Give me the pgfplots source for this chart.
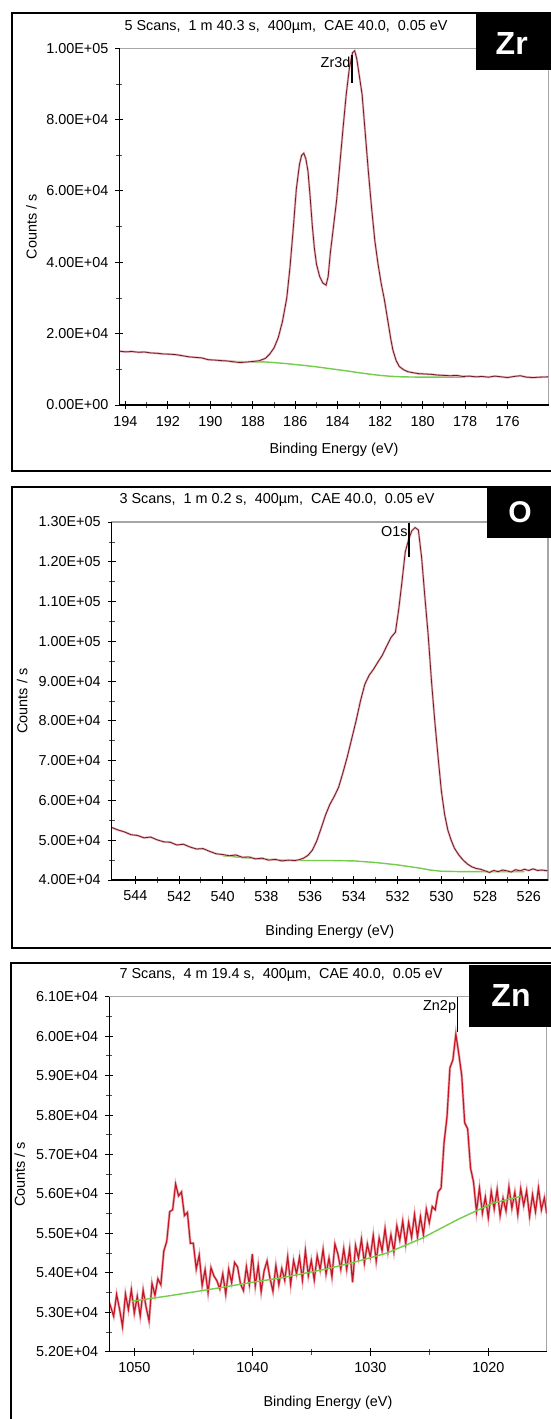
\documentclass[border=0pt]{standalone}
\usepackage{fontspec}
\setmainfont{Liberation Sans}
\usepackage{pgfplots}
\pgfplotsset{compat=1.18}

\definecolor{spec}{RGB}{110,25,35}
\definecolor{halo}{RGB}{232,180,185}
\definecolor{znred}{RGB}{200,20,35}
\definecolor{bkg}{RGB}{115,205,75}

\pgfplotsset{xps/.style={
  scale only axis, x dir=reverse, anchor=south west,
  font=\fontsize{7.2}{8.6}\selectfont,
  scaled y ticks=false, scaled x ticks=false,
  axis line style={gray!70, line width=0.6pt},
  tick pos=left, tick align=center,
  major tick length=4pt, minor tick length=3pt,
  major tick style={black, line width=0.5pt},
  minor tick style={black!70, line width=0.4pt},
  minor tick num=1,
  xlabel={Binding Energy (eV)}, ylabel={Counts / s},
  every axis y label/.style={at={(axis description cs:-0.205,0.5)}, rotate=90, anchor=center},
  after end axis/.code={\draw[black, line width=0.7pt] (rel axis cs:0,1) -- (rel axis cs:0,0) -- (rel axis cs:1,0);},
}}

\begin{document}
\begin{tikzpicture}
\useasboundingbox (0,0) rectangle (275.5pt,-709.5pt);

% ---------------- Zr 3d ----------------
\begin{axis}[xps, at={(59.75pt,-202.5pt)}, width=214.5pt, height=178.35pt,
  xmin=174.07, xmax=194.28, ymin=0, ymax=100000,
  xtick={176,178,180,182,184,186,188,190,192,194},
  xticklabels={176,178,180,182,184,186,188,190,192,194},
  ytick={0,20000,40000,60000,80000,100000},
  yticklabels={0.00E+00,2.00E+04,4.00E+04,6.00E+04,8.00E+04,1.00E+05},
  every axis x label/.style={at={(axis description cs:0.5,-0.126)}, anchor=center}]
\addplot[bkg, line width=0.7pt] coordinates {
(189.6,12500) (189.0,12250) (188.5,12150) (188.0,12100) (187.5,12100) (187.0,11900)
(186.5,11650) (186.0,11350) (185.5,11050) (185.0,10700) (184.5,10300) (184.0,9900)
(183.5,9500) (183.0,9050) (182.5,8650) (182.0,8300) (181.5,8050) (181.0,7900)
(180.5,7850) (180.0,7800) (179.0,7800) (178.0,7800)};
\addplot[spec, line width=0.4pt, preaction={draw, halo, line width=1.1pt}] coordinates {
(194.3,15100) (194.0,14900) (193.7,15000) (193.4,14800) (193.1,14850) (192.8,14600)
(192.5,14500) (192.2,14300) (191.9,14250) (191.6,14100) (191.3,13800) (191.0,13500)
(190.7,13350) (190.4,13200) (190.1,12700) (189.8,12600) (189.5,12450) (189.2,12350)
(188.9,12100) (188.6,11900) (188.3,12050) (188.0,12200) (187.7,12400) (187.4,13100)
(187.2,14300) (187.0,16000) (186.8,18900) (186.6,23500) (186.4,30000) (186.25,38500)
(186.1,49000) (185.95,60500) (185.8,67500) (185.7,70000) (185.6,70600) (185.5,69000)
(185.4,65500) (185.3,58500) (185.2,50500) (185.1,44000) (185.0,39500) (184.85,36000)
(184.7,34200) (184.55,33600) (184.45,36000) (184.35,42500) (184.2,50000) (184.05,57500)
(183.9,67500) (183.75,77500) (183.6,87000) (183.45,94500) (183.3,98800) (183.2,99300)
(183.1,97000) (183.0,93000) (182.85,87000) (182.7,76000) (182.55,65000) (182.4,55000)
(182.25,46000) (182.1,39500) (181.95,34000) (181.8,29500) (181.65,24000) (181.5,18500)
(181.4,15400) (181.25,12500) (181.1,10800) (180.9,9900) (180.7,9350) (180.5,9100)
(180.2,8800) (179.9,8700) (179.6,8600) (179.3,8400) (179.0,8300) (178.7,8200)
(178.4,8300) (178.1,8000) (177.8,8100) (177.5,7900) (177.2,8000) (176.9,7800)
(176.6,8100) (176.3,7900) (176.0,7700) (175.7,8000) (175.4,8200) (175.1,7800)
(174.8,7700) (174.5,7800) (174.07,7900)};
\draw[black, line width=0.8pt] (axis cs:183.33,98100) -- (axis cs:183.33,90200);
\node[anchor=east, inner sep=0.6pt] at (axis cs:183.33,96200) {Zr3d};
\end{axis}

% ---------------- O 1s ----------------
\begin{axis}[xps, at={(55.85pt,-440pt)}, width=218.15pt, height=179pt,
  xmin=525.12, xmax=545.08, ymin=40000, ymax=130000,
  xtick={526,528,530,532,534,536,538,540,542,544},
  xticklabels={526,528,530,532,534,536,538,540,542,544},
  ytick={40000,50000,60000,70000,80000,90000,100000,110000,120000,130000},
  yticklabels={4.00E+04,5.00E+04,6.00E+04,7.00E+04,8.00E+04,9.00E+04,1.00E+05,1.10E+05,1.20E+05,1.30E+05},
  every axis x label/.style={at={(axis description cs:0.5,-0.144)}, anchor=center}]
\addplot[bkg, line width=0.7pt] coordinates {
(540.0,46100) (539.0,45600) (538.0,45200) (537.0,44900) (536.0,44900) (535.0,44900)
(534.0,44800) (533.0,44400) (532.0,43800) (531.0,43000) (530.5,42500) (530.0,42200)
(529.0,42100) (528.0,42100) (527.0,42100) (526.2,42100)};
\addplot[spec, line width=0.4pt, preaction={draw, halo, line width=1.1pt}] coordinates {
(545.08,53200) (544.8,52600) (544.5,52100) (544.2,51400) (543.9,51200) (543.6,50600)
(543.3,50800) (543.0,50100) (542.7,49600) (542.4,49500) (542.1,48800) (541.8,49000)
(541.5,48300) (541.2,47800) (540.9,47900) (540.6,47200) (540.3,46600) (540.0,46400)
(539.7,46100) (539.4,46300) (539.1,45700) (538.8,45800) (538.5,45300) (538.2,45500)
(537.9,45000) (537.6,45200) (537.3,44800) (537.0,45000) (536.7,44900) (536.5,45100)
(536.3,45500) (536.1,46200) (535.9,47500) (535.7,49800) (535.5,53000) (535.3,56300)
(535.1,59000) (534.9,61000) (534.7,63300) (534.5,67000) (534.3,71000) (534.1,75500)
(533.9,80000) (533.7,85000) (533.5,89200) (533.3,91500) (533.1,93000) (532.9,94800)
(532.7,96500) (532.5,98800) (532.3,101000) (532.1,102300) (531.95,108000) (531.8,115000)
(531.65,122500) (531.5,125500) (531.35,127800) (531.2,128600) (531.05,128000) (530.9,121000)
(530.75,111000) (530.6,101500) (530.45,90000) (530.3,80000) (530.15,71000) (530.0,62500)
(529.85,56500) (529.7,52500) (529.55,50000) (529.4,48000) (529.2,46300) (529.0,45000)
(528.8,44000) (528.6,43300) (528.4,42900) (528.2,42700) (528.0,42300) (527.8,41900)
(527.6,42400) (527.4,42100) (527.2,42500) (527.0,42300) (526.8,42000) (526.6,42600)
(526.4,42300) (526.2,42700) (526.0,42400) (525.8,42800) (525.6,42400) (525.4,42500)
(525.12,42300)};
\draw[black, line width=0.8pt] (axis cs:531.47,129700) -- (axis cs:531.47,121280);
\node[anchor=east, inner sep=0.6pt] at (axis cs:531.47,127550) {O1s};
\end{axis}

% ---------------- Zn 2p ----------------
\begin{axis}[xps, at={(54.65pt,-675.85pt)}, width=218.7pt, height=177.5pt,
  xmin=1015.05, xmax=1052.12, ymin=52000, ymax=61000,
  xtick={1020,1030,1040,1050},
  xticklabels={1020,1030,1040,1050},
  ytick={52000,53000,54000,55000,56000,57000,58000,59000,60000,61000},
  yticklabels={5.20E+04,5.30E+04,5.40E+04,5.50E+04,5.60E+04,5.70E+04,5.80E+04,5.90E+04,6.00E+04,6.10E+04},
  every axis x label/.style={at={(axis description cs:0.5,-0.145)}, anchor=center}]
\addplot[znred, line width=0.6pt, preaction={draw, halo, line width=1.3pt}] coordinates {
(1052.12,53250) (1051.75,52900) (1051.50,53450) (1051.25,53080) (1051.00,52640) (1050.75,53460)
(1050.50,53070) (1050.25,53570) (1050.00,52980) (1049.75,53400) (1049.50,52910) (1049.25,53560)
(1049.00,53130) (1048.75,52780) (1048.50,53730) (1048.25,53430) (1048.00,53850) (1047.75,53700)
(1047.50,54550) (1047.25,54800) (1047.00,55550) (1046.75,55600) (1046.50,56250) (1046.25,55950)
(1046.00,56050) (1045.75,55450) (1045.50,55530) (1045.25,54750) (1045.00,54750) (1044.75,54100)
(1044.50,54450) (1044.25,53680) (1044.00,54080) (1043.75,53500) (1043.50,54130) (1043.25,53920)
(1043.00,53800) (1042.75,53590) (1042.50,53970) (1042.25,53460) (1042.00,54090) (1041.75,53750)
(1041.50,54260) (1041.25,54150) (1041.00,53720) (1040.75,53550) (1040.50,54150) (1040.25,53700)
(1040.00,54480) (1039.75,53670) (1039.50,54190) (1039.25,53520) (1039.00,54050) (1038.75,54300)
(1038.50,53860) (1038.25,53530) (1038.00,54180) (1037.75,53700) (1037.50,54110) (1037.25,53810)
(1037.00,54400) (1036.75,53710) (1036.50,54310) (1036.25,53970) (1036.00,54390) (1035.75,53820)
(1035.50,54560) (1035.25,53930) (1035.00,54310) (1034.75,53820) (1034.50,54430) (1034.25,54080)
(1034.00,54590) (1033.75,53970) (1033.50,54370) (1033.25,53900) (1033.00,54730) (1032.75,54480)
(1032.50,54090) (1032.25,54610) (1032.00,54090) (1031.75,54610) (1031.50,53760) (1031.25,54690)
(1031.00,54370) (1030.75,54850) (1030.50,54250) (1030.25,54730) (1030.00,54400) (1029.75,54950)
(1029.50,54300) (1029.25,54880) (1029.00,54560) (1028.75,55120) (1028.50,54540) (1028.25,54960)
(1028.00,54530) (1027.75,55190) (1027.50,54830) (1027.25,55310) (1027.00,54730) (1026.75,55280)
(1026.50,54900) (1026.25,55480) (1026.00,54910) (1025.75,55420) (1025.50,54970) (1025.25,55610)
(1025.00,55270) (1024.75,55680) (1024.50,55600) (1024.25,56050) (1024.00,56150) (1023.75,57300)
(1023.50,57950) (1023.25,59200) (1023.00,59400) (1022.75,60050) (1022.50,59550) (1022.25,59000)
(1022.00,57800) (1021.75,57650) (1021.50,56650) (1021.25,56300) (1021.00,55550) (1020.75,56150)
(1020.50,55520) (1020.25,55920) (1020.00,55400) (1019.75,56060) (1019.50,55620) (1019.25,56110)
(1019.00,55450) (1018.75,55890) (1018.50,55570) (1018.25,56180) (1018.00,55640) (1017.75,56040)
(1017.50,55480) (1017.25,56130) (1017.00,55710) (1016.75,56080) (1016.50,55430) (1016.25,55980)
(1016.00,55550) (1015.75,56150) (1015.50,55600) (1015.25,55900) (1015.05,55500)};
\addplot[bkg, line width=0.7pt] coordinates {
(1050.2,53280) (1047.0,53420) (1043.6,53580) (1040.0,53760) (1037.6,53870) (1034.0,54080)
(1031.6,54250) (1028.6,54500) (1025.6,54880) (1022.6,55350) (1019.6,55770) (1017.2,55940)};
\draw[black, line width=0.8pt] (axis cs:1022.6,61000) -- (axis cs:1022.6,60110);
\node[anchor=east, inner sep=0.6pt] at (axis cs:1022.6,60750) {Zn2p};
\end{axis}

% ---------------- frames, titles, element tags ----------------
\begin{scope}[line width=1pt]
\draw (275.5pt,-6.5pt) -- (6pt,-6.5pt) -- (6pt,-235.5pt) -- (275.5pt,-235.5pt);
\draw (275.5pt,-243.5pt) -- (6pt,-243.5pt) -- (6pt,-474pt) -- (275.5pt,-474pt);
\draw (275.5pt,-481.5pt) -- (5.5pt,-481.5pt) -- (5.5pt,-709.5pt);
\end{scope}
\begin{scope}[font=\fontsize{7.2}{8.6}\selectfont]
\node at (143pt,-13.35pt) {5 Scans,\ \ 1 m 40.3 s,\ \ 400µm,\ \ CAE 40.0,\ \ 0.05 eV};
\node at (138.5pt,-250pt) {3 Scans,\ \ 1 m 0.2 s,\ \ 400µm,\ \ CAE 40.0,\ \ 0.05 eV};
\node at (140.5pt,-487.5pt) {7 Scans,\ \ 4 m 19.4 s,\ \ 400µm,\ \ CAE 40.0,\ \ 0.05 eV};
\end{scope}
\fill[black] (238pt,-6.5pt) rectangle (275.5pt,-35pt);
\node[white, font=\fontsize{16}{16}\selectfont\bfseries] at (255.85pt,-21.5pt) {Zr};
\fill[black] (243.65pt,-243.35pt) rectangle (275.5pt,-269.15pt);
\node[white, font=\fontsize{15}{15}\selectfont\bfseries] at (260pt,-256pt) {O};
\fill[black] (234.5pt,-482.5pt) rectangle (275.5pt,-513.35pt);
\node[white, font=\fontsize{16}{16}\selectfont\bfseries] at (255.5pt,-497.8pt) {Zn};
\end{tikzpicture}
\end{document}
